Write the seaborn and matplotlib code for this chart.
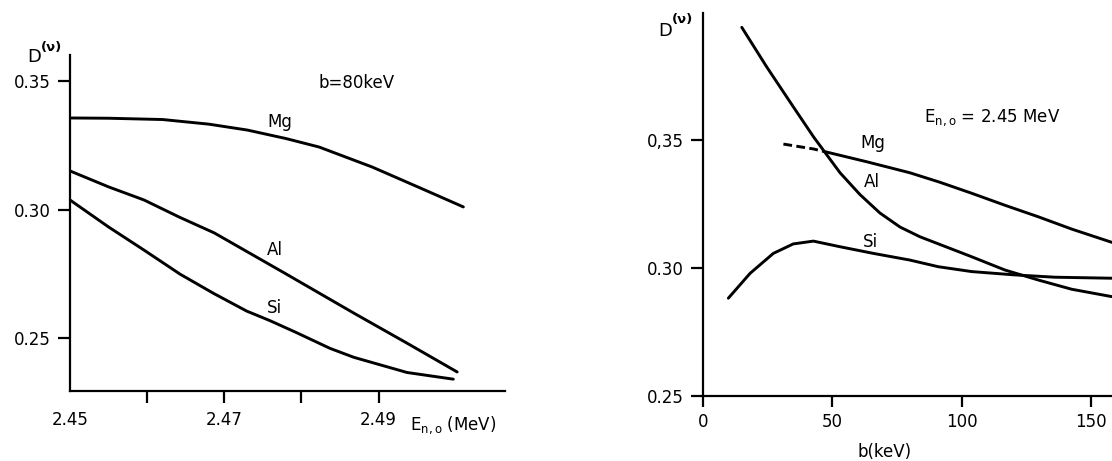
import numpy as np
import pandas as pd
import matplotlib
matplotlib.use("Agg")
import matplotlib.pyplot as plt
import seaborn as sns

# left panel: D vs E_n,o at b = 80 keV
e_mg = [2.450, 2.455, 2.462, 2.468, 2.473, 2.478, 2.4823, 2.4892, 2.496, 2.501]
d_mg = [0.3356, 0.3355, 0.3350, 0.3332, 0.3309, 0.3276, 0.3243, 0.3165, 0.3076, 0.3010]
e_al = [2.450, 2.455, 2.4596, 2.4642, 2.4687, 2.4778, 2.4868, 2.4937, 2.5002]
d_al = [0.3150, 0.3088, 0.3037, 0.2970, 0.2909, 0.2753, 0.2597, 0.2480, 0.2368]
e_si = [2.450, 2.455, 2.4596, 2.4643, 2.4686, 2.4729, 2.4759, 2.4793, 2.4837, 2.4868, 2.4937, 2.4997]
d_si = [0.3037, 0.2932, 0.2842, 0.2748, 0.2674, 0.2605, 0.2568, 0.2522, 0.2460, 0.2425, 0.2366, 0.2340]

# right panel: D vs b at E_n,o = 2.45 MeV
b_al = [15.0, 24.6, 34.9, 42.7, 47.3, 53.0, 60.7, 68.4, 76.2, 83.9, 91.6, 103.9, 116.8, 129.7,
        142.6, 158.2]
d_al2 = [0.3940, 0.3786, 0.3630, 0.3513, 0.3450, 0.3372, 0.3287, 0.3215, 0.3160, 0.3122, 0.3092,
         0.3044, 0.2992, 0.2953, 0.2917, 0.2888]
b_mg_dash = [31.1, 42.7, 46.5]
d_mg_dash = [0.3484, 0.3465, 0.3456]
b_mg = [46.5, 63.3, 80.0, 91.6, 103.9, 116.8, 129.7, 142.6, 158.2]
d_mg2 = [0.3456, 0.3415, 0.3372, 0.3335, 0.3292, 0.3245, 0.3200, 0.3152, 0.3100]
b_si = [9.8, 18.2, 27.2, 34.9, 42.7, 53.0, 65.9, 80.0, 91.0, 103.9, 120.6, 136.1, 158.2]
d_si2 = [0.2882, 0.2979, 0.3057, 0.3094, 0.3105, 0.3083, 0.3057, 0.3031, 0.3005, 0.2986, 0.2973,
         0.2964, 0.2960]

sns.set_style("ticks", {"text.color": "black", "axes.labelcolor": "black",
                        "xtick.color": "black", "ytick.color": "black",
                        "axes.edgecolor": "black"})
plt.rcParams['font.family'] = ['DejaVu Sans']
plt.rcParams['font.size'] = 12

W, H = 1112, 461
fig = plt.figure(figsize=(W / 100, H / 100), dpi=100)
ax1 = fig.add_axes([70/W, 1-391/H, 435/W, 336/H])
ax2 = fig.add_axes([703/W, 1-396/H, 1-703/W, 383/H])

lw = 2.1
for x, y in [(e_mg, d_mg), (e_al, d_al), (e_si, d_si)]:
    sns.lineplot(x=x, y=y, ax=ax1, color='black', lw=lw, sort=False, estimator=None)
for x, y in [(b_al, d_al2), (b_mg, d_mg2), (b_si, d_si2)]:
    sns.lineplot(x=x, y=y, ax=ax2, color='black', lw=lw, sort=False, estimator=None)
sns.lineplot(x=b_mg_dash, y=d_mg_dash, ax=ax2, color='black', lw=lw, sort=False,
             estimator=None, linestyle=(0, (3, 1.5)))

for ax in (ax1, ax2):
    for s in ['top', 'right']:
        ax.spines[s].set_visible(False)
    for s in ['left', 'bottom']:
        ax.spines[s].set_linewidth(1.6)
    ax.set_xlabel('')
    ax.set_ylabel('')

# left axes
ax1.set_xlim(2.45, 2.5064)
ax1.set_ylim(0.2294, 0.3601)
ax1.set_xticks([2.45, 2.46, 2.47, 2.48, 2.49])
ax1.set_xticklabels(['2.45', '', '2.47', '', '2.49'])
ax1.set_yticks([0.25, 0.30, 0.35])
ax1.set_yticklabels(['0.25', '0.30', '0.35'])
ax1.tick_params(axis='x', direction='out', length=8.4, width=1.6, pad=6, labelsize=12)
ax1.tick_params(axis='y', direction='out', length=8.6, width=1.6, pad=5, labelsize=12)
ax1.xaxis.get_major_ticks()[0].tick1line.set_visible(False)

ax1.text(2.4872, 0.3493, 'b=80keV', ha='center', va='center', fontsize=12)
ax1.text(2.4772, 0.3340, 'Mg', ha='center', va='center', fontsize=12)
ax1.text(2.4765, 0.2842, 'Al', ha='center', va='center', fontsize=12)
ax1.text(2.4765, 0.2617, 'Si', ha='center', va='center', fontsize=12)
fig.text(410/W, 1-425/H, r'E$_{\mathregular{n,o}}$ (MeV)', ha='left', va='center', fontsize=12)
fig.text(34/W, 1-57/H, 'D', ha='center', va='center', fontsize=13)
fig.text(41/W, 1-47/H, '(ν)', ha='left', va='center', fontsize=9.5, fontweight='bold')

# right axes
ax2.set_xlim(0, 158.2)
ax2.set_ylim(0.25, 0.3996)
ax2.set_xticks([0, 50, 100, 150])
ax2.set_xticklabels(['0', '50', '100', '150'])
ax2.set_yticks([0.25, 0.30, 0.35])
ax2.set_yticklabels(['0.25', '0.30', '0,35'])
ax2.tick_params(axis='x', direction='out', length=8, width=1.6, pad=4, labelsize=12)
ax2.tick_params(axis='y', direction='out', length=8.6, width=1.6, pad=5.5, labelsize=12)

ax2.text(65.7, 0.3488, 'Mg', ha='center', va='center', fontsize=12)
ax2.text(65.4, 0.3336, 'Al', ha='center', va='center', fontsize=12)
ax2.text(64.6, 0.3102, 'Si', ha='center', va='center', fontsize=12)
ax2.text(85.5, 0.3586, r'E$_{\mathregular{n,o}}$ = 2.45 MeV', ha='left', va='center', fontsize=12)
fig.text(885/W, 1-452/H, 'b(keV)', ha='center', va='center', fontsize=12)
fig.text(665/W, 1-31/H, 'D', ha='center', va='center', fontsize=13)
fig.text(672/W, 1-19/H, '(ν)', ha='left', va='center', fontsize=9.5, fontweight='bold')

fig.savefig('out.png', dpi=100)
